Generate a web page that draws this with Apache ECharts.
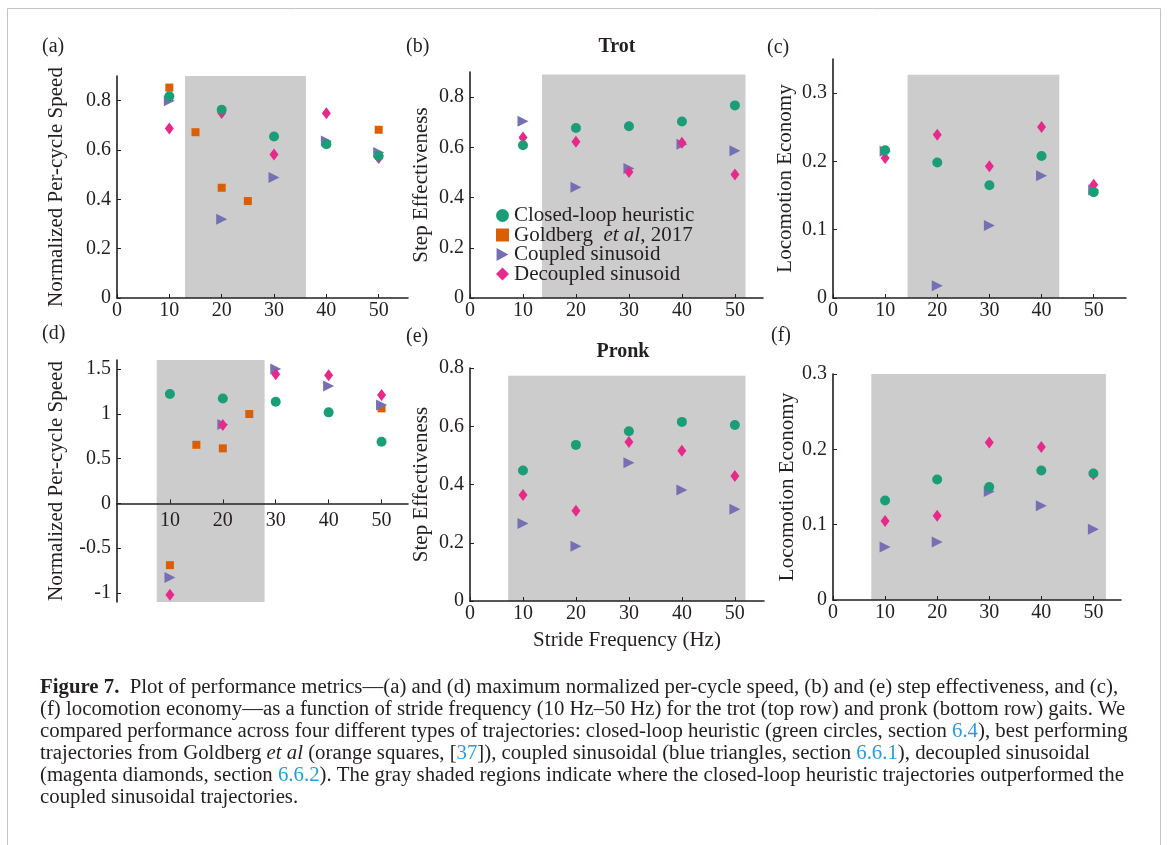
<!DOCTYPE html>
<html lang="en" style="height: 100%">
<head>
    <meta charset="utf-8">
    <title>Figure 7</title>
    <script src="https://cdn.jsdelivr.net/npm/echarts@6/dist/echarts.min.js"></script>
</head>
<body style="height: 100%; margin: 0; background: #fff">
    <div id="main" style="width: 1168px; height: 845px"></div>
    <script>
        // stride frequencies (Hz)
        const freq = [10, 20, 30, 40, 50];
        const goldbergFreq = [10, 15, 20, 25, 50];

        // (a) trot - normalized per-cycle speed
        const trotSpeedClosed = [0.818, 0.763, 0.655, 0.623, 0.576];
        const trotSpeedGoldberg = [0.853, 0.672, 0.447, 0.393, 0.682];
        const trotSpeedCoupled = [0.80, 0.319, 0.489, 0.636, 0.59];
        const trotSpeedDecoupled = [0.687, 0.75, 0.582, 0.749, 0.568];

        // (b) trot - step effectiveness
        const trotStepClosed = [0.608, 0.677, 0.684, 0.703, 0.767];
        const trotStepCoupled = [0.704, 0.441, 0.516, 0.612, 0.586];
        const trotStepDecoupled = [0.639, 0.622, 0.502, 0.618, 0.492];

        // (c) trot - locomotion economy
        const trotEconClosed = [0.2165, 0.1985, 0.165, 0.208, 0.155];
        const trotEconCoupled = [0.215, 0.018, 0.106, 0.179, 0.158];
        const trotEconDecoupled = [0.205, 0.239, 0.193, 0.2505, 0.166];

        // (d) pronk - normalized per-cycle speed
        const pronkSpeedClosed = [1.22, 1.17, 1.134, 1.016, 0.688];
        const pronkSpeedGoldberg = [-0.689, 0.654, 0.614, 0.997, 1.06];
        const pronkSpeedCoupled = [-0.826, 0.88, 1.5, 1.31, 1.097];
        const pronkSpeedDecoupled = [-1.02, 0.874, 1.44, 1.43, 1.21];

        // (e) pronk - step effectiveness
        const pronkStepClosed = [0.448, 0.536, 0.583, 0.615, 0.604];
        const pronkStepCoupled = [0.266, 0.188, 0.475, 0.381, 0.315];
        const pronkStepDecoupled = [0.364, 0.31, 0.546, 0.516, 0.429];

        // (f) pronk - locomotion economy
        const pronkEconClosed = [0.132, 0.16, 0.15, 0.172, 0.168];
        const pronkEconCoupled = [0.0705, 0.077, 0.144, 0.125, 0.094];
        const pronkEconDecoupled = [0.105, 0.112, 0.209, 0.203, 0.167];

        // gray shaded regions [x0, x1, y0, y1]
        const shadeA = [13.0, 36.1, 0, 0.9];
        const shadeB = [13.6, 52.0, 0, 0.89];
        const shadeC = [14.3, 43.4, 0, 0.327];
        const shadeD = [7.5, 27.9, -1.1, 1.6];
        const shadeE = [7.2, 52.0, 0, 0.773];
        const shadeF = [7.35, 52.4, 0, 0.3];

        const NAMES = ['Closed-loop heuristic', 'Goldberg et al, 2017', 'Coupled sinusoid', 'Decoupled sinusoid'];
        const COLORS = { closed: '#1b9e77', goldberg: '#d95f02', coupled: '#7570b3', decoupled: '#e7298a' };
        const INK = '#231f20';
        const SERIF = '"Liberation Serif", "Times New Roman", serif';

        const myChart = echarts.init(document.getElementById('main'), null, { renderer: 'canvas' });

        // plot areas (px) for the 6 panels
        const grids = [
            { left: 117, top: 76, width: 291, height: 222 },
            { left: 470, top: 72, width: 293, height: 226 },
            { left: 833, top: 59, width: 293, height: 239 },
            { left: 117, top: 360, width: 291, height: 242 },
            { left: 470, top: 368, width: 294, height: 233 },
            { left: 833, top: 374, width: 288, height: 226 }
        ];

        function xAxisFor(i, max, ticks, extra, labelMargin) {
            return Object.assign({
                type: 'value', gridIndex: i, min: 0, max: max, z: 5,
                axisLine: { show: true, onZero: true, lineStyle: { color: INK, width: 1.6 } },
                axisTick: { show: true, inside: true, length: 4, customValues: ticks, lineStyle: { color: INK } },
                axisLabel: { customValues: ticks, margin: labelMargin == null ? 3 : labelMargin, color: INK, fontFamily: SERIF, fontSize: 20 },
                splitLine: { show: false }
            }, extra || {});
        }

        function yAxisFor(i, min, max, ticks, name, gap) {
            return {
                type: 'value', gridIndex: i, min: min, max: max, z: 5,
                name: name, nameLocation: 'middle', nameGap: gap,
                nameTextStyle: { color: INK, fontFamily: SERIF, fontSize: 21 },
                axisLine: { show: true, onZero: false, lineStyle: { color: INK, width: 1.6 } },
                axisTick: { show: true, inside: true, length: 4, customValues: ticks, lineStyle: { color: INK } },
                axisLabel: { customValues: ticks, margin: 6, color: INK, fontFamily: SERIF, fontSize: 20 },
                splitLine: { show: false }
            };
        }

        const xt = [0, 10, 20, 30, 40, 50];
        const xAxes = [
            xAxisFor(0, 55.6, xt),
            xAxisFor(1, 55.3, xt),
            xAxisFor(2, 56.2, xt),
            // labels of (d) sit right under the zero line
            xAxisFor(3, 55, [10, 20, 30, 40, 50], null, -91),
            xAxisFor(4, 55.5, xt, {
                name: 'Stride Frequency (Hz)', nameLocation: 'middle', nameGap: 29,
                nameTextStyle: { color: INK, fontFamily: SERIF, fontSize: 21, padding: [0, 0, 0, 20] }
            }),
            xAxisFor(5, 55.3, xt)
        ];
        const yAxes = [
            yAxisFor(0, 0, 0.9, [0, 0.2, 0.4, 0.6, 0.8], 'Normalized Per-cycle Speed', 50),
            yAxisFor(1, 0, 0.9, [0, 0.2, 0.4, 0.6, 0.8], 'Step Effectiveness', 38),
            yAxisFor(2, 0, 0.35, [0, 0.1, 0.2, 0.3], 'Locomotion Economy', 37),
            yAxisFor(3, -1.1, 1.6, [-1, -0.5, 0, 0.5, 1, 1.5], 'Normalized Per-cycle Speed', 50),
            yAxisFor(4, 0, 0.8, [0, 0.2, 0.4, 0.6, 0.8], 'Step Effectiveness', 38),
            yAxisFor(5, 0, 0.3, [0, 0.1, 0.2, 0.3], 'Locomotion Economy', 35)
        ];

        const pairs = (xs, ys) => xs.map((x, k) => [x, ys[k]]);

        function shadeSeries(i, s) {
            return {
                type: 'scatter', xAxisIndex: i, yAxisIndex: i, data: [], z: 1, silent: true,
                markArea: {
                    silent: true,
                    itemStyle: { color: '#cccccc', opacity: 1 },
                    data: [[{ xAxis: s[0], yAxis: s[2] }, { xAxis: s[1], yAxis: s[3] }]]
                }
            };
        }

        function dots(i, name, xs, ys) {
            const base = { name: name, type: 'scatter', xAxisIndex: i, yAxisIndex: i, z: 3, data: pairs(xs, ys) };
            if (name === NAMES[0]) return Object.assign(base, { symbol: 'circle', symbolSize: 10, itemStyle: { color: COLORS.closed, opacity: 1 }, z: 4 });
            if (name === NAMES[1]) return Object.assign(base, { symbol: 'rect', symbolSize: 8, itemStyle: { color: COLORS.goldberg, opacity: 1 } });
            if (name === NAMES[2]) return Object.assign(base, { symbol: 'triangle', symbolRotate: -90, symbolSize: [11, 11], itemStyle: { color: COLORS.coupled, opacity: 1 } });
            return Object.assign(base, { symbol: 'diamond', symbolSize: [9, 12], itemStyle: { color: COLORS.decoupled, opacity: 1 } });
        }

        const series = [
            shadeSeries(0, shadeA), shadeSeries(1, shadeB), shadeSeries(2, shadeC),
            shadeSeries(3, shadeD), shadeSeries(4, shadeE), shadeSeries(5, shadeF),

            dots(0, NAMES[1], goldbergFreq, trotSpeedGoldberg),
            dots(0, NAMES[2], freq, trotSpeedCoupled),
            dots(0, NAMES[3], freq, trotSpeedDecoupled),
            dots(0, NAMES[0], freq, trotSpeedClosed),

            dots(1, NAMES[2], freq, trotStepCoupled),
            dots(1, NAMES[3], freq, trotStepDecoupled),
            dots(1, NAMES[0], freq, trotStepClosed),
            // legend-only entry for panel (b)
            dots(1, NAMES[1], [], []),

            dots(2, NAMES[2], freq, trotEconCoupled),
            dots(2, NAMES[3], freq, trotEconDecoupled),
            dots(2, NAMES[0], freq, trotEconClosed),

            dots(3, NAMES[1], goldbergFreq, pronkSpeedGoldberg),
            dots(3, NAMES[2], freq, pronkSpeedCoupled),
            dots(3, NAMES[3], freq, pronkSpeedDecoupled),
            dots(3, NAMES[0], freq, pronkSpeedClosed),

            dots(4, NAMES[2], freq, pronkStepCoupled),
            dots(4, NAMES[3], freq, pronkStepDecoupled),
            dots(4, NAMES[0], freq, pronkStepClosed),

            dots(5, NAMES[2], freq, pronkEconCoupled),
            dots(5, NAMES[3], freq, pronkEconDecoupled),
            dots(5, NAMES[0], freq, pronkEconClosed)
        ];

        const panelLabel = (t, x, y) => ({
            type: 'text', x: x, y: y,
            style: { text: t, fill: INK, font: '20px ' + SERIF }
        });

        const CAP = 20.8;
        const captionRich = {
            b: { fontWeight: 'bold', fontFamily: SERIF, fontSize: CAP, fill: INK },
            i: { fontStyle: 'italic', fontFamily: SERIF, fontSize: CAP, fill: INK },
            l: { fontFamily: SERIF, fontSize: CAP, fill: '#2b9bd6' }
        };
        const captionLines = [
            '{b|Figure 7.}  Plot of performance metrics—(a) and (d) maximum normalized per-cycle speed, (b) and (e) step effectiveness, and (c),',
            '(f) locomotion economy—as a function of stride frequency (10 Hz–50 Hz) for the trot (top row) and pronk (bottom row) gaits. We',
            'compared performance across four different types of trajectories: closed-loop heuristic (green circles, section {l|6.4}), best performing',
            'trajectories from Goldberg {i|et al} (orange squares, [{l|37}]), coupled sinusoidal (blue triangles, section {l|6.6.1}), decoupled sinusoidal',
            '(magenta diamonds, section {l|6.6.2}). The gray shaded regions indicate where the closed-loop heuristic trajectories outperformed the',
            'coupled sinusoidal trajectories.'
        ];

        const graphic = [
            { type: 'rect', shape: { x: 7.5, y: 8.5, width: 1153, height: 900 }, style: { fill: 'none', stroke: '#c4c4c4', lineWidth: 1 }, silent: true },
            panelLabel('(a)', 42, 37),
            panelLabel('(b)', 406, 37),
            panelLabel('(c)', 767, 38),
            panelLabel('(d)', 42, 324),
            panelLabel('(e)', 406, 327),
            panelLabel('(f)', 771, 326)
        ].concat(captionLines.map((line, k) => ({
            type: 'text', x: 40, y: 688 + k * 22,
            style: {
                text: line, fill: INK, font: CAP + 'px ' + SERIF, verticalAlign: 'middle',
                rich: captionRich
            }
        })));

        const option = {
            backgroundColor: '#ffffff',
            animation: false,
            title: [
                { text: 'Trot', left: 612, top: 32, textAlign: 'center', textStyle: { fontFamily: SERIF, fontSize: 20, fontWeight: 'bold', color: INK } },
                { text: 'Pronk', left: 618, top: 337, textAlign: 'center', textStyle: { fontFamily: SERIF, fontSize: 20, fontWeight: 'bold', color: INK } }
            ],
            legend: {
                data: [
                    NAMES[0],
                    { name: NAMES[1], icon: 'rect' },
                    // right-pointing triangle like the markers
                    { name: NAMES[2], icon: 'path://M0,0L10,5.5L0,11Z' },
                    NAMES[3]
                ],
                orient: 'vertical',
                left: 491, top: 200,
                itemWidth: 13, itemHeight: 13, itemGap: -1.5,
                textStyle: {
                    color: INK, fontFamily: SERIF, fontSize: 21, lineHeight: 19,
                    rich: { i: { fontStyle: 'italic', fontFamily: SERIF, fontSize: 21, color: INK } }
                },
                formatter: n => n === NAMES[1] ? 'Goldberg  {i|et al}, 2017' : n,
                selectedMode: false
            },
            grid: grids,
            xAxis: xAxes,
            yAxis: yAxes,
            series: series,
            graphic: graphic
        };

        myChart.setOption(option);
    </script>
</body>
</html>
